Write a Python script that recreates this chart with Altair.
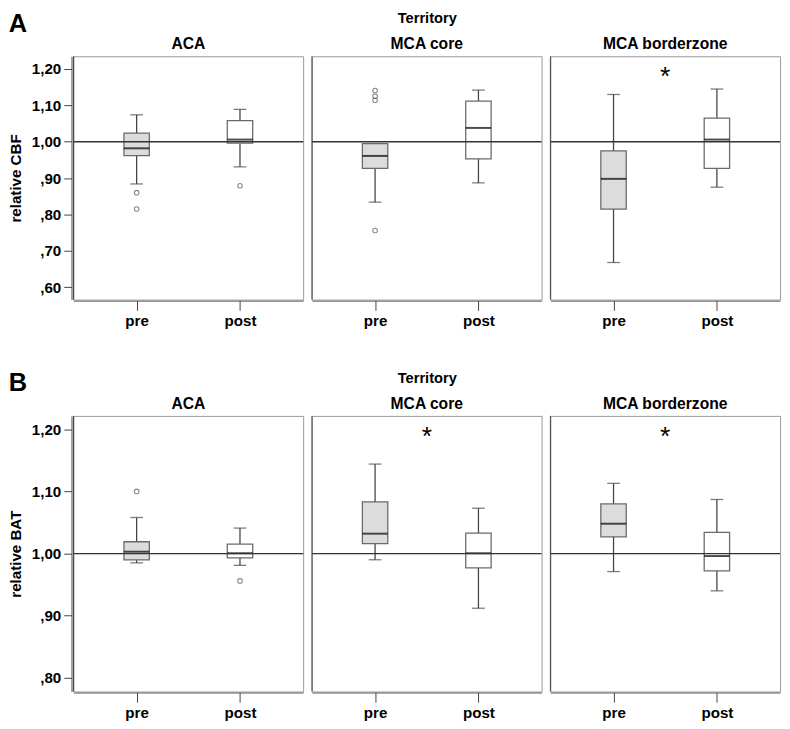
import altair as alt
import pandas as pd

territories = ["ACA", "MCA core", "MCA borderzone"]
phases = ["pre", "post"]
# order of the stat arrays: ACA pre, ACA post, core pre, core post, border pre, border post
stat_terr = ["ACA", "ACA", "MCA core", "MCA core", "MCA borderzone", "MCA borderzone"]
stat_phase = ["pre", "post", "pre", "post", "pre", "post"]

# Panel A: relative CBF
cbf_lo = [0.884, 0.931, 0.834, 0.887, 0.668, 0.875]
cbf_q1 = [0.962, 0.996, 0.927, 0.953, 0.815, 0.927]
cbf_med = [0.982, 1.006, 0.961, 1.038, 0.898, 1.006]
cbf_q3 = [1.024, 1.058, 0.995, 1.112, 0.975, 1.065]
cbf_hi = [1.074, 1.089, 0.995, 1.142, 1.130, 1.145]
cbf_out_terr = ["ACA", "ACA", "ACA", "MCA core", "MCA core", "MCA core", "MCA core"]
cbf_out_phase = ["pre", "pre", "post", "pre", "pre", "pre", "pre"]
cbf_out_val = [0.860, 0.815, 0.879, 1.141, 1.125, 1.114, 0.756]
cbf_star_terr = ["MCA borderzone"]
cbf_star_level = 1.194
cbf_ticks = [0.6, 0.7, 0.8, 0.9, 1.0, 1.1, 1.2]
cbf_domain = [0.566, 1.235]

# Panel B: relative BAT
bat_lo = [0.985, 0.981, 0.990, 0.912, 0.971, 0.940]
bat_q1 = [0.990, 0.993, 1.016, 0.977, 1.027, 0.972]
bat_med = [1.003, 1.0005, 1.032, 1.0005, 1.048, 0.996]
bat_q3 = [1.019, 1.015, 1.083, 1.033, 1.080, 1.034]
bat_hi = [1.058, 1.041, 1.144, 1.073, 1.113, 1.087]
bat_out_terr = ["ACA", "ACA"]
bat_out_phase = ["pre", "post"]
bat_out_val = [1.100, 0.956]
bat_star_terr = ["MCA core", "MCA borderzone"]
bat_star_level = 1.197
bat_ticks = [0.8, 0.9, 1.0, 1.1, 1.2]
bat_domain = [0.778, 1.2215]

FONT = "Liberation Sans"
PANEL_W = 235
LABEL_EXPR = ("datum.value < 1 ? replace(format(datum.value, '.2f'), '0.', ',') "
              ": replace(format(datum.value, '.2f'), '.', ',')")


def make_df(lo, q1, med, q3, hi, ot, op, ov, st, slevel):
    rows = []
    for i in range(len(stat_terr)):
        rows.append(dict(kind="box", territory=stat_terr[i], phase=stat_phase[i],
                         lo=lo[i], q1=q1[i], med=med[i], q3=q3[i], hi=hi[i]))
    for t, p, v in zip(ot, op, ov):
        rows.append(dict(kind="out", territory=t, phase=p, out=v))
    for t in st:
        rows.append(dict(kind="star", territory=t, sy=slevel, txt="*"))
    return pd.DataFrame(rows)


def make_row(df, domain, ticks, height, ytitle, letter):
    yscale = alt.Scale(domain=domain, nice=False, zero=False)
    yaxis = alt.Axis(values=ticks, labelExpr=LABEL_EXPR, title=ytitle,
                     labelFont=FONT, labelFontSize=15.5, labelFontWeight="bold",
                     labelColor="black", titleFont=FONT, titleFontSize=15.5,
                     titleFontWeight="bold", titleColor="black", titlePadding=8,
                     tickSize=8, tickColor="#444", domainColor="#444",
                     labelPadding=3, grid=False)

    def Y(f):
        return alt.Y(f, type="quantitative", scale=yscale, axis=yaxis, title=ytitle)

    X = alt.X("phase:N", sort=phases,
              scale=alt.Scale(type="point", padding=0.611),
              axis=alt.Axis(title=None, labelFont=FONT, labelFontSize=15.5,
                            labelFontWeight="bold", labelColor="black",
                            labelAngle=0, tickSize=10, tickColor="#444",
                            domainColor="#444", labelPadding=4, grid=False))

    base = alt.Chart()
    boxes = base.transform_filter("datum.kind == 'box'")
    whisker = boxes.mark_rule(color="#444", strokeWidth=1.3).encode(
        x=X, y=Y("lo"), y2="hi:Q")
    cap_lo = boxes.mark_tick(color="#444", thickness=1.3, size=13).encode(x=X, y=Y("lo"))
    cap_hi = boxes.mark_tick(color="#444", thickness=1.3, size=13).encode(x=X, y=Y("hi"))
    box = boxes.mark_bar(size=26, stroke="#6a6a6a", strokeWidth=1.3).encode(
        x=X, y=Y("q1"), y2="q3:Q",
        color=alt.Color("phase:N", scale=alt.Scale(domain=phases, range=["#dcdcdc", "#ffffff"]),
                        legend=None))
    median = boxes.mark_tick(color="black", thickness=2, size=26).encode(x=X, y=Y("med"))
    ref = base.transform_filter("datum.kind == 'box' && datum.phase == 'pre'").mark_rule(
        color="#333", strokeWidth=1.3).encode(y=alt.datum(1.0))
    left_edge = base.transform_filter("datum.kind == 'box' && datum.phase == 'pre'").mark_rule(
        color="#444", strokeWidth=1).encode(x=alt.value(0), y=alt.value(0), y2=alt.value(height))
    outl = base.transform_filter("datum.kind == 'out'").mark_point(
        shape="circle", filled=False, size=22, color="#555", strokeWidth=1.1).encode(
        x=X, y=Y("out"))
    star = base.transform_filter("datum.kind == 'star'").mark_text(
        font=FONT, fontSize=27, color="black", baseline="middle", dy=6).encode(
        x=alt.value(PANEL_W / 2), y=Y("sy"), text="txt:N")

    layer = alt.layer(whisker, cap_lo, cap_hi, box, median, ref, left_edge, outl, star).properties(
        width=PANEL_W, height=height)

    return layer.facet(
        column=alt.Column("territory:N", sort=territories, title="Territory",
                          header=alt.Header(labelFont=FONT, labelFontSize=16,
                                            labelFontWeight="bold", labelColor="black",
                                            labelPadding=3, titleFont=FONT,
                                            titleFontSize=15, titleFontWeight="bold",
                                            titleColor="black", titlePadding=1)),
        data=df, spacing=5,
    ).properties(title=alt.TitleParams(letter, anchor="start", fontSize=26, font=FONT,
                                       fontWeight="bold", color="black", offset=-30,
                                       dy=-4, frame="bounds"))


df_a = make_df(cbf_lo, cbf_q1, cbf_med, cbf_q3, cbf_hi, cbf_out_terr, cbf_out_phase,
               cbf_out_val, cbf_star_terr, cbf_star_level)
df_b = make_df(bat_lo, bat_q1, bat_med, bat_q3, bat_hi, bat_out_terr, bat_out_phase,
               bat_out_val, bat_star_terr, bat_star_level)

row_a = make_row(df_a, cbf_domain, cbf_ticks, 249, "relative CBF", "A")
row_b = make_row(df_b, bat_domain, bat_ticks, 282, "relative BAT", "B")

chart = alt.vconcat(row_a, row_b, spacing=42).properties(
    padding={"left": 0, "top": -5, "right": 0, "bottom": 0}).configure_view(
    stroke="#999", strokeWidth=1)

chart.save("out.html", embed_options={"renderer": "svg", "actions": False})
